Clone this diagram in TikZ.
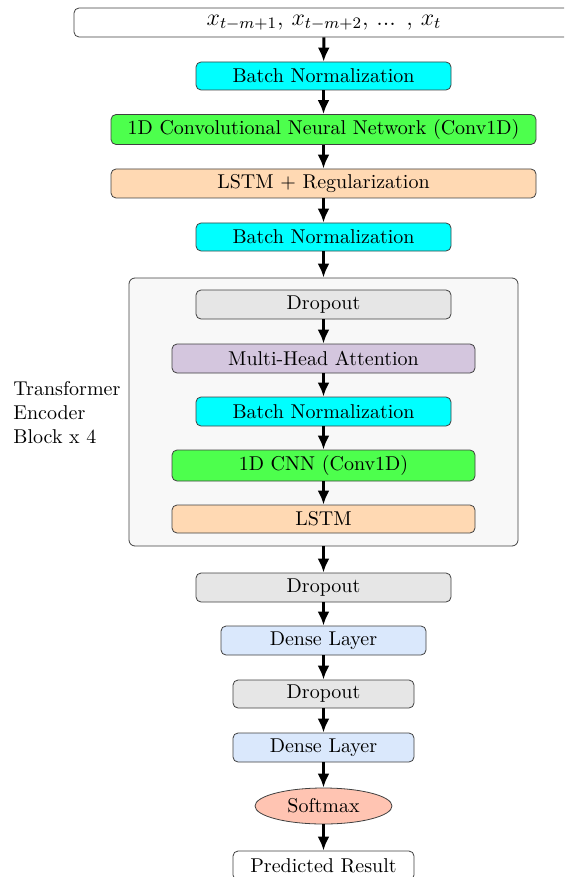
\documentclass[tikz,border=0pt]{standalone}
\usetikzlibrary{shapes.geometric,arrows.meta}
\definecolor{ccyan}{RGB}{0,255,255}
\definecolor{cgreen}{RGB}{77,255,77}
\definecolor{corange}{RGB}{255,217,179}
\definecolor{cgray}{RGB}{230,230,230}
\definecolor{cpurple}{RGB}{212,198,222}
\definecolor{cblue}{RGB}{218,232,252}
\definecolor{csalmon}{RGB}{255,196,178}
\definecolor{ccontainer}{RGB}{248,248,248}
\tikzset{
  layer/.style={draw=black!75, line width=0.4pt, rounded corners=2.5pt, minimum height=14pt, inner sep=0pt, font=\normalsize},
  oval/.style={draw=black!75, line width=0.4pt, ellipse, inner sep=0pt, font=\normalsize},
  arr/.style={-{Latex[length=7pt,width=6pt]}, line width=1.5pt},
}
\begin{document}
\begin{tikzpicture}[x=0.5pt,y=-0.5pt]
\useasboundingbox (0,0) rectangle (564,877);
\clip (0,0) rectangle (564,877);
% container
\node[draw=black!75, fill=ccontainer, rounded corners=3pt, line width=0.4pt, minimum width=194.5pt, minimum height=134pt, inner sep=0pt] (blk) at (323.5,412) {};
\node[anchor=west, align=left, inner sep=0pt, font=\normalsize] (lbl) at (13,413) {Transformer\\Encoder\\Block x 4};
% nodes
\node[layer, fill=white, minimum width=250pt, minimum height=14.5pt] (in) at (324,22.5) {\large $x_{t-m+1}$, $x_{t-m+2}$, ... , $x_t$};
\node[layer, fill=ccyan, minimum width=127.5pt] (bn1) at (323.5,76) {Batch Normalization};
\node[layer, fill=cgreen, minimum width=212.5pt, minimum height=15pt] (cnn1) at (323.5,129.5) {1D Convolutional Neural Network (Conv1D)};
\node[layer, fill=corange, minimum width=212.5pt, minimum height=14.5pt] (lstm1) at (323.5,183.5) {LSTM + Regularization};
\node[layer, fill=ccyan, minimum width=127.5pt] (bn2) at (323.5,237) {Batch Normalization};
\node[layer, fill=cgray, minimum width=127.5pt, minimum height=14.5pt] (do1) at (323.5,304.5) {Dropout};
\node[layer, fill=cpurple, minimum width=151.5pt, minimum height=14.5pt] (mha) at (323.5,358.5) {Multi-Head Attention};
\node[layer, fill=ccyan, minimum width=127.5pt, minimum height=14.5pt] (bn3) at (323.5,411.5) {Batch Normalization};
\node[layer, fill=cgreen, minimum width=151.5pt, minimum height=15.5pt] (cnn2) at (323.5,465.5) {1D CNN (Conv1D)};
\node[layer, fill=corange, minimum width=151.5pt] (lstm2) at (323.5,519) {LSTM};
\node[layer, fill=cgray, minimum width=127.5pt, minimum height=14.5pt] (do2) at (323.5,587.5) {Dropout};
\node[layer, fill=cblue, minimum width=102.5pt, minimum height=14.5pt] (d1) at (323.5,640.5) {Dense Layer};
\node[layer, fill=cgray, minimum width=90.5pt] (do3) at (323.5,694) {Dropout};
\node[layer, fill=cblue, minimum width=90.5pt, minimum height=14.5pt] (d2) at (323.5,747.5) {Dense Layer};
\node[oval, fill=csalmon, minimum width=68.5pt, minimum height=18pt] (sm) at (323.5,806) {Softmax};
\node[layer, fill=white, minimum width=90.5pt, minimum height=14.5pt] (out) at (323.5,865.5) {Predicted Result};
% arrows
\draw[arr] (in) -- (bn1);
\draw[arr] (bn1) -- (cnn1);
\draw[arr] (cnn1) -- (lstm1);
\draw[arr] (lstm1) -- (bn2);
\draw[arr] (bn2) -- (blk);
\draw[arr] (do1) -- (mha);
\draw[arr] (mha) -- (bn3);
\draw[arr] (bn3) -- (cnn2);
\draw[arr] (cnn2) -- (lstm2);
\draw[arr] (blk) -- (do2);
\draw[arr] (do2) -- (d1);
\draw[arr] (d1) -- (do3);
\draw[arr] (do3) -- (d2);
\draw[arr] (d2) -- (sm);
\draw[arr] (sm) -- (out);
\end{tikzpicture}
\end{document}
